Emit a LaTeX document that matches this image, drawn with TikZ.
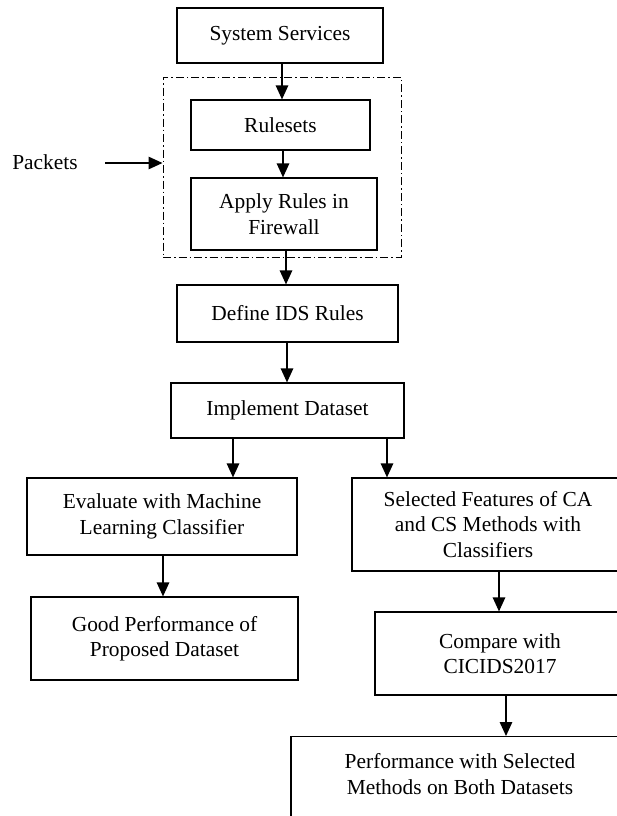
\documentclass[tikz,border=0pt]{standalone}
\usepackage{fontspec}
\setmainfont{Liberation Serif}
\usetikzlibrary{arrows.meta, positioning}

\begin{document}
\begin{tikzpicture}[x=1pt, y=-1pt, >={Triangle[length=14pt,width=12.5pt]},
  box/.style={draw, line width=1.2pt, align=center, inner sep=2pt,
    font=\fontsize{21.4}{25.5}\selectfont},
  group/.style={draw, line width=1pt, dash pattern=on 8pt off 3pt on 1.5pt off 3pt},
  flow/.style={->, line width=1.3pt}]
  \useasboundingbox (0,0) rectangle (617,816);
  \clip (0,0) rectangle (617,816);
  % firewall part
  \node[box, minimum width=206pt, minimum height=55pt] (sys) at (280,35.5) {System Services};
  \node[group, minimum width=238pt, minimum height=180pt] (fw) at (282,167) {};
  \node[box, minimum width=179pt, minimum height=50pt] (rules) at (280.5,125) {Rulesets};
  \node[box, minimum width=186pt, minimum height=72pt] (apply) at (284,214) {Apply Rules in\\Firewall};
  \node[box, draw=none] (pk) at (45,162) {Packets};
  \coordinate (pkin) at (105,163);
  % ids and dataset
  \node[box, minimum width=221pt, minimum height=57pt] (ids) at (287.5,313.5) {Define IDS Rules};
  \node[box, minimum width=233pt, minimum height=55pt] (impl) at (287.5,410.5) {Implement Dataset};
  % left branch
  \node[box, minimum width=270pt, minimum height=77pt] (eval) at (162,516.5) {Evaluate with Machine\\Learning Classifier};
  \node[box, minimum width=267pt, minimum height=83pt] (good) at (164.5,638.5) {Good Performance of\\Proposed Dataset};
  % right branch
  \node[box, minimum width=272pt, minimum height=93pt] (sel) at (488,524.5) {Selected Features of CA\\and CS Methods with\\Classifiers};
  \node[box, minimum width=250pt, minimum height=83pt] (cmp) at (500,653.5) {Compare with\\CICIDS2017};
  \node[box, minimum width=338pt, minimum height=100pt, anchor=north] (perf) at (460,736)
    {Performance with Selected\\Methods on Both Datasets\\ \mbox{}};
  % arrows
  \draw[flow] (pkin) -- (pkin -| fw.west);
  \draw[flow] ([xshift=2pt]sys.south) -- ([xshift=2pt]sys.south |- rules.north);
  \draw[flow] ([xshift=2.5pt]rules.south) -- ([xshift=2.5pt]rules.south |- apply.north);
  \draw[flow] ([xshift=2pt]apply.south) -- ([xshift=2pt]apply.south |- ids.north);
  \draw[flow] ([xshift=-0.5pt]ids.south) -- ([xshift=-0.5pt]ids.south |- impl.north);
  \draw[flow] ([xshift=-54.5pt]impl.south) -- ([xshift=-54.5pt]impl.south |- eval.north);
  \draw[flow] ([xshift=99.5pt]impl.south) -- ([xshift=99.5pt]impl.south |- sel.north);
  \draw[flow] ([xshift=1pt]eval.south) -- ([xshift=1pt]eval.south |- good.north);
  \draw[flow] ([xshift=11pt]sel.south) -- ([xshift=11pt]sel.south |- cmp.north);
  \draw[flow] ([xshift=6pt]cmp.south) -- ([xshift=6pt]cmp.south |- perf.north);
\end{tikzpicture}
\end{document}
